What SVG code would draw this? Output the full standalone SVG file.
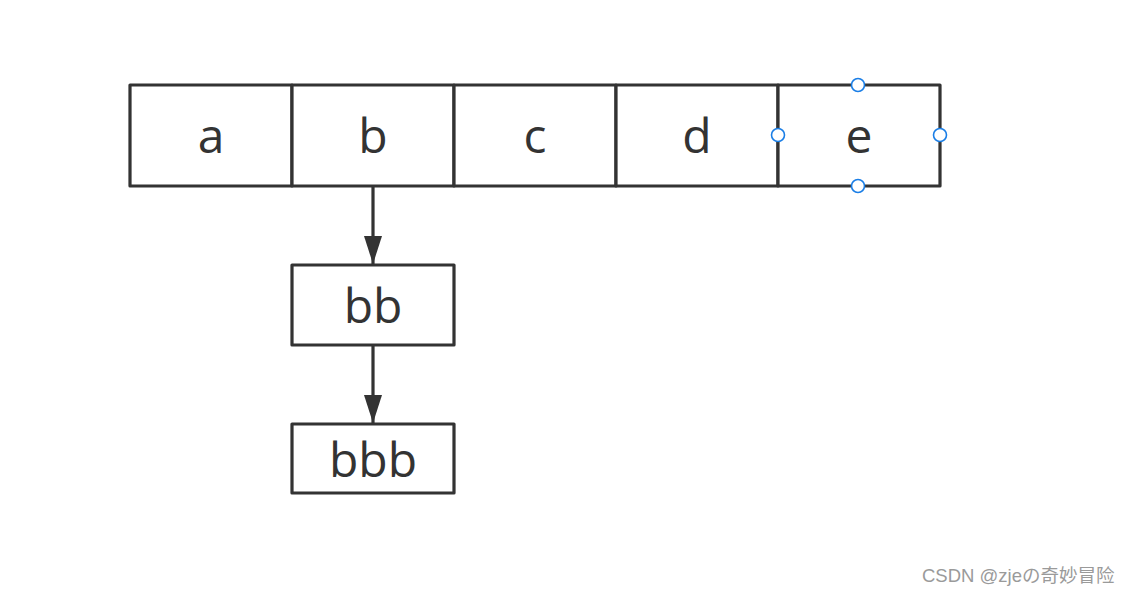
<svg xmlns="http://www.w3.org/2000/svg" width="1132" height="595" viewBox="0 0 1132 595">
<style>
.box{fill:#fff;stroke:#333;stroke-width:3.2;stroke-linejoin:round}
.ln{stroke:#333;stroke-width:3.2;fill:none}
.lbl{font-family:"Open Sans","DejaVu Sans",sans-serif;font-size:48px;fill:#333;text-anchor:middle}
.h{fill:#fff;stroke:#1a7ee6;stroke-width:1.6}
.wm{font-family:"Liberation Sans","Noto Sans CJK JP",sans-serif;font-size:18.5px;fill:#9a9a9a}
</style>
<defs>
<marker id="arr" markerWidth="28" markerHeight="18" refX="28" refY="9" orient="auto" markerUnits="userSpaceOnUse" viewBox="0 0 28 18">
<path d="M0,0 L28,9 L0,18 Z" fill="#333"/>
</marker>
</defs>
<rect width="1132" height="595" fill="#fff"/>
<g id="cell-a"><rect class="box" x="130" y="85" width="162" height="101"/><text class="lbl" x="211" y="153">a</text></g>
<g id="cell-b"><rect class="box" x="292" y="85" width="162" height="101"/><text class="lbl" x="373" y="153">b</text></g>
<g id="cell-c"><rect class="box" x="454" y="85" width="162" height="101"/><text class="lbl" x="535" y="153">c</text></g>
<g id="cell-d"><rect class="box" x="616" y="85" width="162" height="101"/><text class="lbl" x="697" y="153">d</text></g>
<g id="cell-e"><rect class="box" x="778" y="85" width="162" height="101"/><text class="lbl" x="859" y="153">e</text>
<circle class="h" cx="858" cy="85" r="6.5"/><circle class="h" cx="778" cy="135" r="6.5"/><circle class="h" cx="940" cy="135" r="6.5"/><circle class="h" cx="858" cy="186" r="6.5"/></g>
<g id="node-bb"><rect class="box" x="292" y="265" width="162" height="80"/><text class="lbl" x="373" y="323">bb</text></g>
<g id="node-bbb"><rect class="box" x="292" y="424" width="162" height="69"/><text class="lbl" x="373" y="477">bbb</text></g>
<g id="connectors">
<line class="ln" x1="373" y1="187" x2="373" y2="264" marker-end="url(#arr)"/>
<line class="ln" x1="373" y1="346" x2="373" y2="423" marker-end="url(#arr)"/>
</g>
<text class="wm" x="922" y="582">CSDN @zjeの奇妙冒险</text>
</svg>
